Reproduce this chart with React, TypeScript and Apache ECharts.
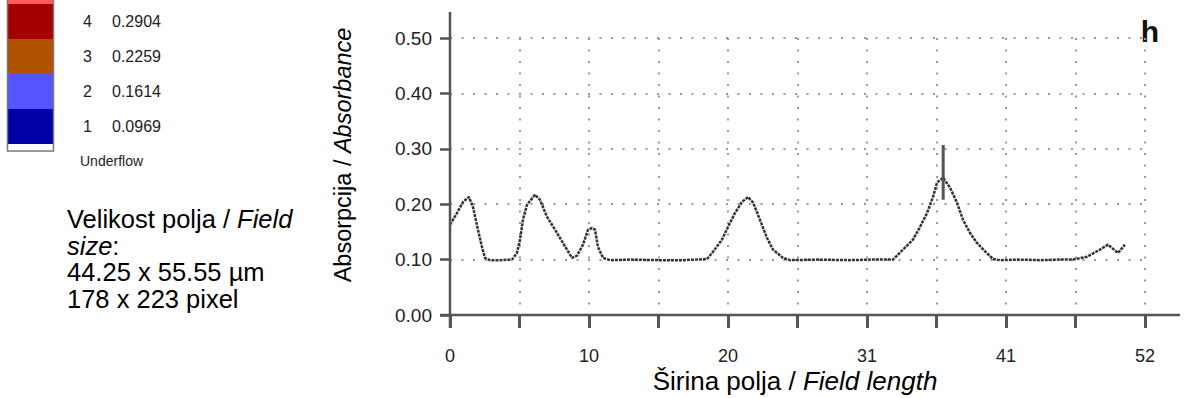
import React, { useEffect, useRef } from "react";
import * as echarts from "echarts";

const fieldLength = [0, 0.52, 0.97, 1.42, 1.72, 2.09, 2.39, 2.62, 2.99, 3.74, 4.64, 5.01, 5.24, 5.46, 5.76, 6.36, 6.73, 7.26, 7.86, 8.45, 9.13, 9.5, 9.95, 10.33, 10.62, 10.85, 11.07, 11.45, 11.97, 13.5, 15.71, 17.5, 19.23, 19.68, 20.35, 20.8, 21.32, 21.85, 22.3, 22.67, 23.19, 23.72, 24.17, 24.92, 25.44, 27.5, 29.93, 31.5, 33.15, 33.89, 34.64, 35.17, 35.69, 36.14, 36.44, 36.89, 37.41, 37.93, 38.38, 38.91, 39.43, 40.03, 40.63, 41.15, 42.5, 44.14, 45.5, 46.61, 47.66, 48.63, 49.23, 49.98, 50.5];
const absorbance = [0.163, 0.184, 0.204, 0.213, 0.195, 0.154, 0.123, 0.103, 0.099, 0.099, 0.100, 0.112, 0.136, 0.172, 0.199, 0.217, 0.208, 0.177, 0.154, 0.130, 0.103, 0.107, 0.127, 0.154, 0.157, 0.154, 0.123, 0.103, 0.099, 0.100, 0.099, 0.099, 0.101, 0.114, 0.136, 0.159, 0.184, 0.204, 0.213, 0.203, 0.172, 0.139, 0.118, 0.103, 0.099, 0.100, 0.099, 0.100, 0.100, 0.118, 0.136, 0.159, 0.184, 0.213, 0.239, 0.248, 0.230, 0.203, 0.172, 0.148, 0.130, 0.115, 0.101, 0.099, 0.100, 0.099, 0.100, 0.100, 0.105, 0.118, 0.127, 0.112, 0.127];

const cursorX = [36.9, 36.9];
const cursorY = [0.208, 0.307];

const xTickLabels = ["0", "", "10", "", "20", "", "31", "", "41", "", "52"];
const xStep = 5.2;
const xMax = 52;
const yStep = 0.1;
const yMax = 0.5;

const levelIds = ["4", "3", "2", "1"];
const levelValues = ["0.2904", "0.2259", "0.1614", "0.0969"];
const levelColors = ["#a50000", "#b05200", "#5555ff", "#0000a5"];

const infoLines = [
  "{n|Velikost polja / }{i|Field}",
  "{i|size}{n|:}",
  "{n|44.25 x 55.55 µm}",
  "{n|178 x 223 pixel}",
];

const FONT = "'Liberation Sans', Arial, sans-serif";
const TXT = "#222";
const AX = "#555";

function richStyle(size: number) {
  return {
    n: { fontSize: size, fontFamily: FONT, color: TXT },
    i: { fontSize: size, fontStyle: "italic", fontFamily: FONT, color: TXT },
  };
}

export default function App() {
  const ref = useRef<HTMLDivElement>(null);
  useEffect(() => {
    document.body.style.margin = "0";
    const chart = echarts.init(ref.current!, null, { renderer: "svg" });

    const gLeft = 450, gTop = 38, gRight = 40, gBottom = 83;
    const H = 398;
    const x0 = gLeft, y0 = H - gBottom;

    const els: any[] = [];
    els.push({ type: "rect", shape: { x: 8, y: 0, width: 45, height: 4 }, style: { fill: "#ff5a5a" } });
    levelColors.forEach((c, i) => {
      els.push({ type: "rect", shape: { x: 8, y: 4 + i * 35, width: 45, height: 35 }, style: { fill: c } });
      els.push({ type: "text", x: 83, y: 21 + i * 35.3, style: { text: levelIds[i], font: `16px ${FONT}`, fill: TXT, verticalAlign: "middle" } });
      els.push({ type: "text", x: 112, y: 21 + i * 35.3, style: { text: levelValues[i], font: `16px ${FONT}`, fill: TXT, verticalAlign: "middle" } });
    });
    els.push({ type: "rect", shape: { x: 8, y: 144, width: 45, height: 7 }, style: { fill: "#fff" } });
    els.push({ type: "rect", shape: { x: 7.5, y: -2, width: 46, height: 153 }, style: { fill: "none", stroke: "#777", lineWidth: 1.5 } });
    els.push({ type: "text", x: 80, y: 161, style: { text: "Underflow", font: `14px ${FONT}`, fill: TXT, verticalAlign: "middle" } });

    infoLines.forEach((t, i) => {
      els.push({ type: "text", x: 67, y: 219 + i * 26.7, style: { text: t, rich: richStyle(25.5), verticalAlign: "middle" } });
    });

    const option: any = {
      animation: false,
      backgroundColor: "#fff",
      grid: { left: gLeft, right: gRight, top: gTop, bottom: gBottom },
      xAxis: {
        type: "value",
        min: 0,
        max: xMax,
        interval: xStep,
        axisLine: { show: false },
        axisTick: { show: true, length: 13, lineStyle: { color: AX, width: 3 } },
        axisLabel: {
          margin: 32,
          fontSize: 18,
          fontFamily: FONT,
          color: TXT,
          formatter: (v: number) => xTickLabels[Math.round(v / xStep)] ?? "",
        },
        splitLine: { show: true, lineStyle: { color: "#999", width: 2, type: [2, 9.5] } },
      },
      yAxis: {
        type: "value",
        min: 0,
        max: yMax,
        interval: yStep,
        axisLine: { show: false },
        axisTick: { show: true, length: 10, lineStyle: { color: AX, width: 2.5 } },
        axisLabel: {
          margin: 18,
          fontSize: 19,
          fontFamily: FONT,
          color: TXT,
          formatter: (v: number) => v.toFixed(2),
        },
        splitLine: { show: true, lineStyle: { color: "#999", width: 2, type: [2, 9.5] } },
      },
      series: [
        {
          type: "line",
          data: fieldLength.map((x, i) => [x, absorbance[i]]),
          symbol: "none",
          lineStyle: { color: "#333", width: 2.5, type: [3, 1] },
          z: 5,
        },
        {
          type: "line",
          data: cursorX.map((x, i) => [x, cursorY[i]]),
          symbol: "none",
          lineStyle: { color: "#555", width: 3 },
          z: 6,
        },
      ],
      graphic: [
        ...els,
        { type: "line", shape: { x1: x0, y1: 12, x2: x0, y2: 328 }, style: { stroke: AX, lineWidth: 2.5 }, z: 10 },
        { type: "line", shape: { x1: 440, y1: y0, x2: 1180, y2: y0 }, style: { stroke: AX, lineWidth: 2.5 }, z: 10 },
        {
          type: "text",
          x: 343,
          y: 155,
          rotation: Math.PI / 2,
          style: { text: "{n|Absorpcija / }{i|Absorbance}", rich: richStyle(23.5), align: "center", verticalAlign: "middle" },
        },
        {
          type: "text",
          x: 795,
          y: 381,
          style: { text: "{n|Širina polja / }{i|Field length}", rich: richStyle(26), align: "center", verticalAlign: "middle" },
        },
        { type: "text", x: 1150, y: 31, style: { text: "h", font: `bold 30px ${FONT}`, fill: "#111", align: "center", verticalAlign: "middle" } },
      ],
    };
    chart.setOption(option);
    return () => chart.dispose();
  }, []);
  return <div ref={ref} style={{ width: 1185, height: 398 }} />;
}
